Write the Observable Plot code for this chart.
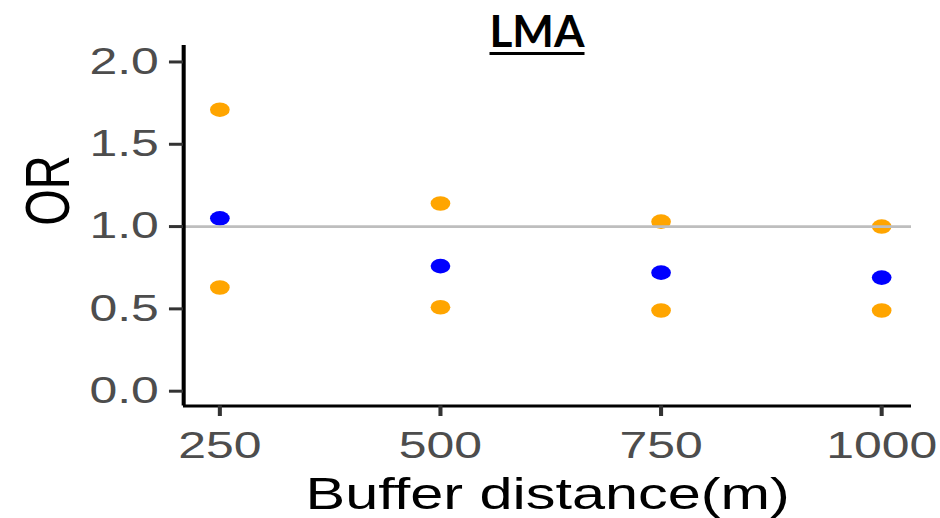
<!DOCTYPE html>
<html>
<head>
<meta charset="utf-8">
<script src="https://cdn.jsdelivr.net/npm/d3@7"></script>
<script src="https://cdn.jsdelivr.net/npm/@observablehq/plot@0.6"></script>
<style>
  html, body { margin: 0; padding: 0; background: white; }
  #wrap { position: relative; width: 940px; height: 518px; overflow: hidden; }
  #title {
    position: absolute; left: 537px; top: 8px; transform: translateX(-50%);
    font-family: Lato, "Liberation Sans", Arial, sans-serif; font-weight: 700;
    font-size: 44px; line-height: 44px; color: black; white-space: nowrap;
    text-decoration: underline; text-decoration-thickness: 3px; text-underline-offset: 5px;
  }
</style>
</head>
<body>
<div id="wrap"><div id="title">LMA</div></div>
<script>
// ---- data ----
const bufferDistance = [250, 500, 750, 1000];
const orValues = [1.05, 0.76, 0.72, 0.69];
const lowerCI = [0.63, 0.51, 0.49, 0.49];
const upperCI = [1.71, 1.14, 1.03, 1.00];
const xTicks = [250, 500, 750, 1000];
const yTicks = [0, 0.5, 1.0, 1.5, 2.0];
const xDomain = [209, 1034];
const yDomain = [-0.09, 2.1];
const refLine = [1];

// ---- layout (the original is stretched horizontally) ----
const S = 1.35;            // horizontal stretch factor
const W = 940, H = 518;
const VW = W / S;

const orPoints = bufferDistance.map((b, i) => ({x: b, y: orValues[i]}));
const ciPoints = bufferDistance.flatMap((b, i) => [
  {x: b, y: lowerCI[i]}, {x: b, y: upperCI[i]}
]);

const chart = Plot.plot({
  width: VW,
  height: H,
  marginLeft: 183 / S,
  marginRight: 29 / S,
  marginTop: 45,
  marginBottom: H - 405.5,
  style: {fontFamily: "'Liberation Sans', Arial, sans-serif", background: "white"},
  x: {domain: xDomain},
  y: {domain: yDomain},
  marks: [
    Plot.dot(ciPoints, {x: "x", y: "y", r: 7.3, fill: "#FFA500", stroke: null}),
    Plot.dot(orPoints, {x: "x", y: "y", r: 7.3, fill: "#0000FF", stroke: null}),
    Plot.ruleY(refLine, {stroke: "#BEBEBE", strokeWidth: 2.7}),
    Plot.ruleX([xDomain[0]], {stroke: "black", strokeWidth: 3}),
    Plot.ruleY([yDomain[0]], {stroke: "black", strokeWidth: 3}),
    Plot.axisY({
      ticks: yTicks, tickFormat: d3.format(".1f"), tickSize: 10.4, tickPadding: 8,
      stroke: "#333333", strokeWidth: 3, fill: "#4D4D4D", fontSize: 37, label: null
    }),
    Plot.axisX({
      ticks: xTicks, tickFormat: d => String(d), tickSize: 10.5, tickPadding: 15,
      stroke: "#333333", strokeWidth: 3, fill: "#4D4D4D", fontSize: 37, label: null
    }),
    Plot.text(["Buffer distance(m)"], {
      text: d => d, frameAnchor: "bottom", lineAnchor: "bottom", dy: 103,
      fontSize: 44, fill: "black"
    }),
    Plot.text(["OR"], {
      text: d => d, frameAnchor: "left", rotate: -90, lineAnchor: "bottom",
      dx: (68 - 183) / S, fontSize: 47, fill: "black"
    })
  ]
});

chart.setAttribute("width", W);
chart.setAttribute("height", H);
chart.setAttribute("preserveAspectRatio", "none");
chart.style.width = W + "px";
chart.style.height = H + "px";
chart.style.maxWidth = "none";
chart.style.display = "block";
const wrap = document.getElementById("wrap");
wrap.insertBefore(chart, wrap.firstChild);
</script>
</body>
</html>
